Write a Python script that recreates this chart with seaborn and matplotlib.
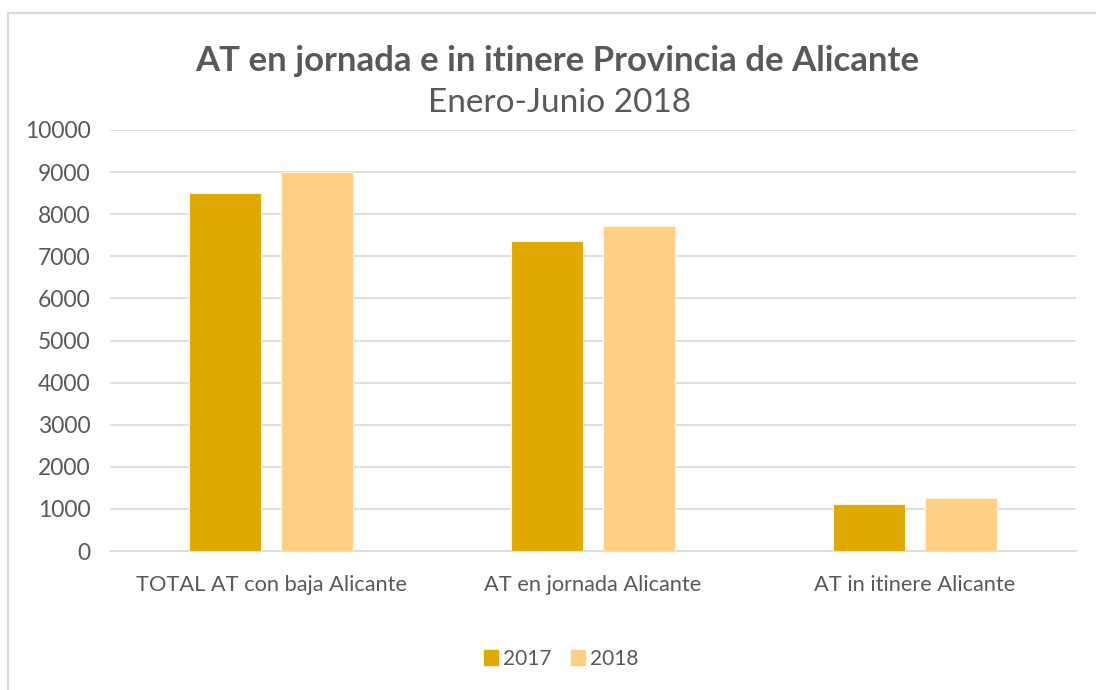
import pandas as pd
import seaborn as sns
import matplotlib.pyplot as plt
from matplotlib.patches import Rectangle

categories = ['TOTAL AT con baja Alicante', 'AT en jornada Alicante', 'AT in itinere Alicante']
values_2017 = [8500, 7365, 1120]
values_2018 = [9010, 7720, 1260]
years = ['2017', '2018']
colors = ['#E0A900', '#FFD083']

# long table for seaborn
df = pd.DataFrame({
    'categoria': categories * 2,
    'valor': values_2017 + values_2018,
    'año': [years[0]] * 3 + [years[1]] * 3,
})

sns.set_style('white')
plt.rcParams['font.family'] = ['Lato', 'DejaVu Sans']
text_color = '#595959'

fig = plt.figure(figsize=(10.96, 6.90), dpi=100)
ax = fig.add_axes([0.1004, 0.2014, 0.8814, 0.6102])

sns.barplot(data=df, x='categoria', y='valor', hue='año', palette=colors,
            saturation=1, width=0.568, gap=0.213, ax=ax, legend=False,
            edgecolor='#FFF3DC', linewidth=0.8, zorder=3)

ax.set_ylim(0, 10000)
ax.set_xlim(-0.5, 2.5)
ax.set_yticks(range(0, 10001, 1000))
ax.grid(axis='y', color='#D9D9D9', linewidth=1.2, zorder=0)
ax.set_axisbelow(True)
for side in ['top', 'right', 'left']:
    ax.spines[side].set_visible(False)
ax.spines['bottom'].set_color('#D9D9D9')
ax.spines['bottom'].set_linewidth(1.2)
ax.tick_params(axis='y', length=0, labelsize=16.5, labelcolor=text_color, pad=14)
ax.tick_params(axis='x', length=0, labelsize=15.7, labelcolor=text_color, pad=17)
ax.set_xlabel('')
ax.set_ylabel('')

fig.text(0.508, 0.912, 'AT en jornada e in itinere Provincia de Alicante',
         ha='center', va='center', fontsize=25, fontweight='bold', color=text_color)
fig.text(0.5105, 0.851, 'Enero-Junio 2018', ha='center', va='center',
         fontsize=24, color=text_color)

# legend
handles = [Rectangle((0, 0), 1, 1, color=c) for c in colors]
fig.legend(handles, years, loc='center', bbox_to_anchor=(0.512, 0.045),
           ncol=2, frameon=False, fontsize=15, labelcolor=text_color,
           handlelength=0.7, handleheight=0.7, handletextpad=0.25, columnspacing=0.9)

# outer chart border
fig.patches.append(Rectangle((8 / 1096, -0.1), 1.2, 0.1 + (690 - 13) / 690,
                             transform=fig.transFigure, fill=False,
                             edgecolor='#D9D9D9', linewidth=1.5))

fig.savefig('out.png', dpi=100)
